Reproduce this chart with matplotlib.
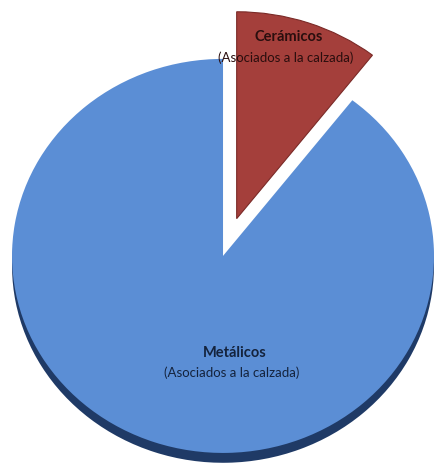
import matplotlib.pyplot as plt

# datos
categorias = ['Cerámicos', 'Metálicos']
subtitulos = ['(Asociados a la calzada)', '(Asociados a la calzada)']
valores = [10.5, 89.5]

colores = ['#a43f3b', '#5b8ed5']
bordes = ['#a43f3b', '#1f3a66']
explode = [0.2, 0]

plt.rcParams['font.family'] = ['Lato', 'DejaVu Sans']

fig = plt.figure(figsize=(4.38, 4.75), dpi=100)
ax = fig.add_axes([0, 0, 1, 1])

# borde 3D: el mismo pastel desplazado hacia abajo
rim, _ = ax.pie(valores, colors=bordes, startangle=90, counterclock=False,
                explode=explode, center=(0, -0.05))
rim[0].set_visible(False)
wedges, _ = ax.pie(valores, colors=colores, startangle=90, counterclock=False,
                   explode=explode)
wedges[0].set_radius(1.05)
wedges[0].set_edgecolor('#7a2a27')
wedges[0].set_linewidth(0.8)

ax.set_aspect('auto')
ax.set_xlim(-1.057, 1.019)
ax.set_ylim(-1.112, 1.299)

# etiquetas
ax.text(0.313, 1.112, categorias[0], ha='center', va='center',
        fontsize=10.5, fontweight='bold', color='#2a0e0e')
ax.text(0.299, 1.005, subtitulos[0], ha='center', va='center',
        fontsize=9.5, color='#2a0e0e')
ax.text(0.057, -0.492, categorias[1], ha='center', va='center',
        fontsize=10.5, fontweight='bold', color='#14233d')
ax.text(0.040, -0.594, subtitulos[1], ha='center', va='center',
        fontsize=9.5, color='#14233d')

fig.savefig('out.png', dpi=100)
